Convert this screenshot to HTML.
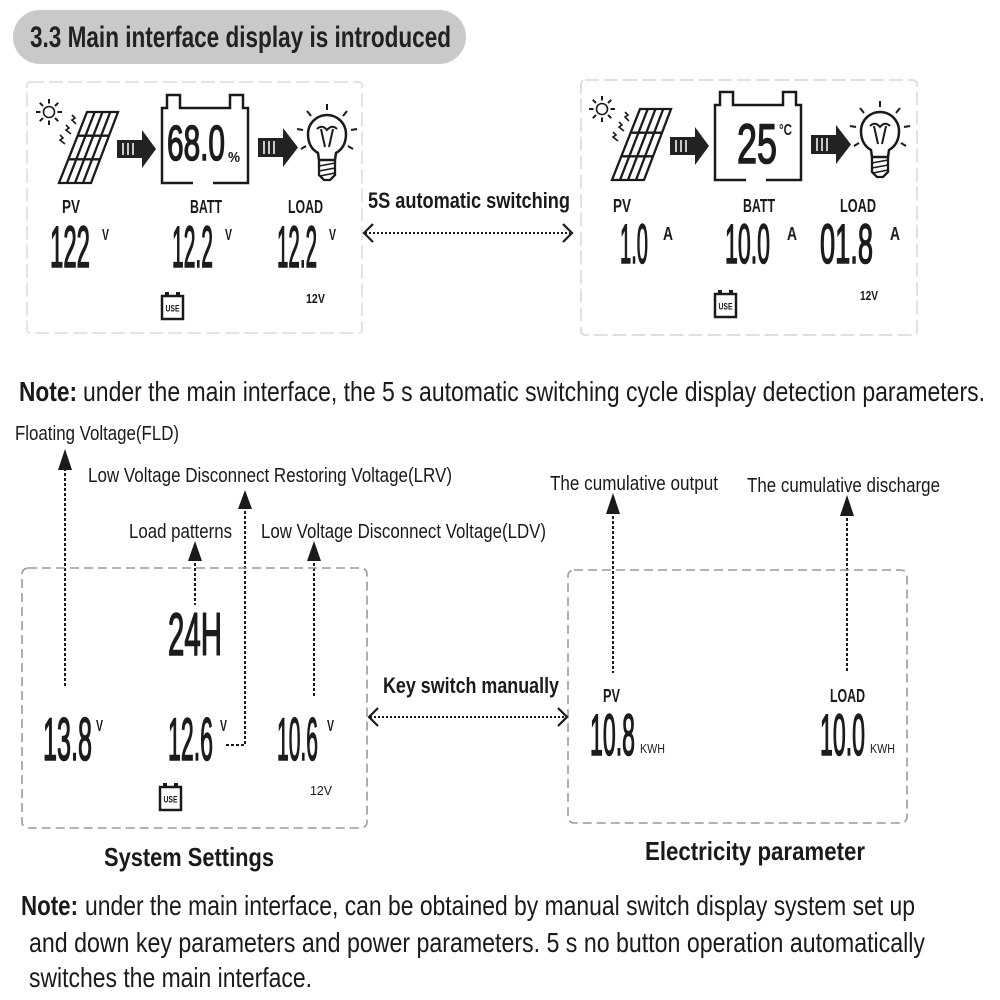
<!DOCTYPE html>
<html><head><meta charset="utf-8"><style>
html,body{margin:0;padding:0;background:#fff;}
svg{display:block;}
text{font-family:"Liberation Sans",sans-serif;fill:#1a1a1a;}
.b{font-weight:bold;}
.lcd{font-weight:normal;fill:#1c1c1c;stroke:#1c1c1c;stroke-width:1.6;}
</style></head><body>
<svg width="1000" height="1000" viewBox="0 0 1000 1000" xmlns="http://www.w3.org/2000/svg">
<rect width="1000" height="1000" fill="#fff"/>

<!-- Title pill -->
<rect x="13" y="10" width="453" height="54" rx="27" fill="#c9c9c9"/>
<text x="30" y="47" font-size="30" class="b" textLength="421" lengthAdjust="spacingAndGlyphs" style="fill:#222">3.3 Main interface display is introduced</text>

<!-- Top panels borders -->
<rect x="27" y="82" width="335" height="251" rx="3" fill="none" stroke="#dcdcdc" stroke-width="1.5" stroke-dasharray="14,5"/>
<rect x="581" y="80" width="336" height="255" rx="4" fill="none" stroke="#d6d6d6" stroke-width="1.5" stroke-dasharray="14,5"/>

<defs>
<g id="icons" fill="none" stroke="#1a1a1a">
  <!-- sun -->
  <circle cx="49" cy="112" r="5.5" stroke-width="1.6"/>
  <g stroke-width="2">
    <line x1="57.5" y1="112" x2="62" y2="112"/>
    <line x1="55" y1="118" x2="58.2" y2="121.2"/>
    <line x1="49" y1="120.5" x2="49" y2="125"/>
    <line x1="43" y1="118" x2="39.8" y2="121.2"/>
    <line x1="40.5" y1="112" x2="36" y2="112"/>
    <line x1="43" y1="106" x2="39.8" y2="102.8"/>
    <line x1="49" y1="103.5" x2="49" y2="99"/>
    <line x1="55" y1="106" x2="58.2" y2="102.8"/>
  </g>
  <!-- small ray squiggles -->
  <g stroke-width="1.6">
    <polyline points="72,115 75,118 72,120 76,124"/>
    <polyline points="66,125 69,128 66,130 71,134"/>
    <polyline points="60,135 63,138 60,140 65,144"/>
  </g>
  <!-- solar panel -->
  <g stroke-width="2.3">
    <polygon points="87,112 118,112 91,183 59,183"/>
    <line x1="94.75" y1="112" x2="67" y2="183"/>
    <line x1="102.5" y1="112" x2="75" y2="183"/>
    <line x1="110.25" y1="112" x2="83" y2="183"/>
    <line x1="78" y1="135.7" x2="109" y2="135.7"/>
    <line x1="68.5" y1="159.3" x2="100" y2="159.3"/>
  </g>
  <!-- arrow 1 -->
  <rect x="117" y="140" width="25" height="18" fill="#222" stroke="none"/>
  <polygon points="142,130 156,149 142,168" fill="#222" stroke="none"/>
  <g stroke="#fff" stroke-width="1.5">
    <line x1="123" y1="143" x2="123" y2="155"/>
    <line x1="128" y1="143" x2="128" y2="155"/>
    <line x1="133" y1="143" x2="133" y2="155"/>
  </g>
  <!-- battery -->
  <path d="M193,183 H162 V108 H167 V95 H180 V108 H230 V95 H243 V108 H248 V183 H213" stroke-width="2.5"/>
  <!-- arrow 2 -->
  <rect x="258" y="138" width="25" height="19" fill="#222" stroke="none"/>
  <polygon points="283,128 298,147.5 283,167" fill="#222" stroke="none"/>
  <g stroke="#fff" stroke-width="1.5">
    <line x1="264" y1="141" x2="264" y2="154"/>
    <line x1="269" y1="141" x2="269" y2="154"/>
    <line x1="274" y1="141" x2="274" y2="154"/>
  </g>
  <!-- bulb -->
  <path d="M319,160 L318,153 C311,149 308,142 308,134 A19,19 0 0 1 346,134 C346,142 343,149 336,153 L335,160 Z" stroke-width="2.5"/>
  <path d="M319,160 V175 L324,180 H330 L335,175 V160" stroke-width="2.3"/>
  <g stroke-width="1.6">
    <line x1="319" y1="166" x2="335" y2="163"/>
    <line x1="319" y1="171" x2="335" y2="168"/>
    <line x1="320" y1="176" x2="335" y2="173"/>
  </g>
  <path d="M317,129 Q322,124 327,130 Q332,124 337,129" stroke-width="2"/>
  <path d="M321,129 L325,147 M333,129 L329,147" stroke-width="2"/>
  <g stroke-width="2">
    <line x1="327" y1="110" x2="327" y2="104"/>
    <line x1="343" y1="116" x2="347" y2="111"/>
    <line x1="311" y1="116" x2="307" y2="111"/>
    <line x1="351" y1="130" x2="357" y2="129"/>
    <line x1="303" y1="130" x2="297" y2="129"/>
    <line x1="348" y1="146" x2="353" y2="149"/>
    <line x1="306" y1="146" x2="301" y2="149"/>
  </g>
</g>
<g id="use">
  <rect x="0" y="4" width="21" height="23" fill="none" stroke="#1a1a1a" stroke-width="2.5"/>
  <rect x="3" y="0" width="4" height="4" fill="#1a1a1a"/>
  <rect x="14" y="0" width="4" height="4" fill="#1a1a1a"/>
  <text x="3.5" y="19.5" font-size="9" class="b" textLength="14" lengthAdjust="spacingAndGlyphs">USE</text>
</g>
</defs>

<!-- Top-left panel -->
<use href="#icons"/>
<text x="167" y="160" font-size="49" class="lcd" textLength="58" lengthAdjust="spacingAndGlyphs">68.0</text>
<text x="228" y="162" font-size="15" class="b" textLength="12" lengthAdjust="spacingAndGlyphs">%</text>

<text x="62" y="213" font-size="18" class="b" textLength="18" lengthAdjust="spacingAndGlyphs">PV</text>
<text x="190" y="213" font-size="18" class="b" textLength="32" lengthAdjust="spacingAndGlyphs">BATT</text>
<text x="288" y="213" font-size="18" class="b" textLength="35" lengthAdjust="spacingAndGlyphs">LOAD</text>

<text x="50" y="267" font-size="58" class="lcd" textLength="40" lengthAdjust="spacingAndGlyphs">122</text>
<text x="102" y="240" font-size="16" class="b" textLength="7" lengthAdjust="spacingAndGlyphs">V</text>
<text x="172" y="267" font-size="58" class="lcd" textLength="41" lengthAdjust="spacingAndGlyphs">12.2</text>
<text x="225" y="240" font-size="16" class="b" textLength="7" lengthAdjust="spacingAndGlyphs">V</text>
<text x="277" y="267" font-size="58" class="lcd" textLength="40" lengthAdjust="spacingAndGlyphs">12.2</text>
<text x="329" y="240" font-size="16" class="b" textLength="7" lengthAdjust="spacingAndGlyphs">V</text>

<use href="#use" x="162" y="292"/>
<text x="306" y="303" font-size="13" class="b" textLength="19" lengthAdjust="spacingAndGlyphs">12V</text>

<!-- 5S automatic switching -->
<text x="368" y="208" font-size="22" class="b" textLength="202" lengthAdjust="spacingAndGlyphs">5S automatic switching</text>
<line x1="365" y1="233" x2="570" y2="233" stroke="#1a1a1a" stroke-width="2" stroke-dasharray="2,2"/>
<polyline points="373,224 364,233 373,242" fill="none" stroke="#1a1a1a" stroke-width="2.2"/>
<polyline points="563,224 572,233 563,242" fill="none" stroke="#1a1a1a" stroke-width="2.2"/>

<!-- Top-right panel -->
<use href="#icons" transform="translate(553,-3)"/>
<text x="737" y="163" font-size="56" class="lcd" textLength="40" lengthAdjust="spacingAndGlyphs">25</text>
<text x="779" y="135" font-size="16" class="b" textLength="13" lengthAdjust="spacingAndGlyphs">°C</text>

<text x="613" y="212" font-size="18" class="b" textLength="18" lengthAdjust="spacingAndGlyphs">PV</text>
<text x="743" y="212" font-size="18" class="b" textLength="32" lengthAdjust="spacingAndGlyphs">BATT</text>
<text x="840" y="212" font-size="18" class="b" textLength="36" lengthAdjust="spacingAndGlyphs">LOAD</text>

<text x="620" y="263" font-size="56" class="lcd" textLength="28" lengthAdjust="spacingAndGlyphs">1.0</text>
<text x="663" y="240" font-size="18" class="b" textLength="10" lengthAdjust="spacingAndGlyphs">A</text>
<text x="725" y="263" font-size="56" class="lcd" textLength="45" lengthAdjust="spacingAndGlyphs">10.0</text>
<text x="787" y="240" font-size="18" class="b" textLength="10" lengthAdjust="spacingAndGlyphs">A</text>
<text x="820" y="263" font-size="56" class="lcd" textLength="53" lengthAdjust="spacingAndGlyphs">01.8</text>
<text x="890" y="240" font-size="18" class="b" textLength="10" lengthAdjust="spacingAndGlyphs">A</text>

<use href="#use" x="715" y="290"/>
<text x="860" y="300" font-size="13" class="b" textLength="18" lengthAdjust="spacingAndGlyphs">12V</text>

<!-- Note 1 -->
<text x="19" y="401" font-size="28" class="b" textLength="58" lengthAdjust="spacingAndGlyphs">Note:</text>
<text x="83" y="401" font-size="28" textLength="902" lengthAdjust="spacingAndGlyphs">under the main interface, the 5 s automatic switching cycle display detection parameters.</text>

<!-- Labels for system settings -->
<text x="15" y="440" font-size="20" textLength="164" lengthAdjust="spacingAndGlyphs">Floating Voltage(FLD)</text>
<text x="88" y="482" font-size="20" textLength="364" lengthAdjust="spacingAndGlyphs">Low Voltage Disconnect Restoring Voltage(LRV)</text>
<text x="129" y="538" font-size="20" textLength="103" lengthAdjust="spacingAndGlyphs">Load patterns</text>
<text x="261" y="538" font-size="20" textLength="285" lengthAdjust="spacingAndGlyphs">Low Voltage Disconnect Voltage(LDV)</text>
<text x="550" y="490" font-size="20" textLength="168" lengthAdjust="spacingAndGlyphs">The cumulative output</text>
<text x="747" y="492" font-size="20" textLength="193" lengthAdjust="spacingAndGlyphs">The cumulative discharge</text>

<!-- Vertical dashed arrows -->
<g stroke="#1a1a1a" stroke-width="2" stroke-dasharray="3,2" fill="none">
  <line x1="65" y1="468" x2="65" y2="687"/>
  <polyline points="245,506 245,745 226,745"/>
  <line x1="195" y1="558" x2="195" y2="605"/>
  <line x1="314" y1="558" x2="314" y2="697"/>
  <line x1="613" y1="511" x2="613" y2="673"/>
  <line x1="847" y1="513" x2="847" y2="673"/>
</g>
<g fill="#1a1a1a">
  <polygon points="65,449 58,470 72,470"/>
  <polygon points="245,490 238,509 252,509"/>
  <polygon points="195,541 188,561 202,561"/>
  <polygon points="314,541 307,561 321,561"/>
  <polygon points="613,493 606,514 620,514"/>
  <polygon points="847,495 840,516 854,516"/>
</g>

<!-- Bottom panels -->
<rect x="22" y="568" width="345" height="260" rx="6" fill="none" stroke="#9a9a9a" stroke-width="1.6" stroke-dasharray="9,5"/>
<rect x="568" y="570" width="339" height="253" rx="6" fill="none" stroke="#9a9a9a" stroke-width="1.6" stroke-dasharray="9,5"/>

<!-- System settings content -->
<text x="168" y="655" font-size="60" class="lcd" textLength="54" lengthAdjust="spacingAndGlyphs">24H</text>
<text x="43" y="760" font-size="60" class="lcd" textLength="49" lengthAdjust="spacingAndGlyphs">13.8</text>
<text x="96" y="731" font-size="16" class="b" textLength="7" lengthAdjust="spacingAndGlyphs">V</text>
<text x="168" y="760" font-size="60" class="lcd" textLength="45" lengthAdjust="spacingAndGlyphs">12.6</text>
<text x="220" y="731" font-size="16" class="b" textLength="7" lengthAdjust="spacingAndGlyphs">V</text>
<text x="277" y="760" font-size="60" class="lcd" textLength="41" lengthAdjust="spacingAndGlyphs">10.6</text>
<text x="327" y="731" font-size="16" class="b" textLength="7" lengthAdjust="spacingAndGlyphs">V</text>
<use href="#use" x="160" y="783"/>
<text x="310" y="795" font-size="13" textLength="22" lengthAdjust="spacingAndGlyphs">12V</text>

<!-- Key switch manually -->
<text x="383" y="693" font-size="22" class="b" textLength="176" lengthAdjust="spacingAndGlyphs">Key switch manually</text>
<line x1="370" y1="717" x2="566" y2="717" stroke="#1a1a1a" stroke-width="2" stroke-dasharray="2,2"/>
<polyline points="378,708 369,717 378,726" fill="none" stroke="#1a1a1a" stroke-width="2.2"/>
<polyline points="558,708 567,717 558,726" fill="none" stroke="#1a1a1a" stroke-width="2.2"/>

<!-- Electricity parameter content -->
<text x="603" y="702" font-size="18" class="b" textLength="17" lengthAdjust="spacingAndGlyphs">PV</text>
<text x="590" y="755" font-size="58" class="lcd" textLength="45" lengthAdjust="spacingAndGlyphs">10.8</text>
<text x="640" y="753" font-size="13" textLength="25" lengthAdjust="spacingAndGlyphs">KWH</text>
<text x="830" y="702" font-size="18" class="b" textLength="35" lengthAdjust="spacingAndGlyphs">LOAD</text>
<text x="820" y="755" font-size="58" class="lcd" textLength="45" lengthAdjust="spacingAndGlyphs">10.0</text>
<text x="870" y="753" font-size="13" textLength="25" lengthAdjust="spacingAndGlyphs">KWH</text>

<!-- Captions -->
<text x="104" y="866" font-size="26" class="b" textLength="170" lengthAdjust="spacingAndGlyphs">System Settings</text>
<text x="645" y="860" font-size="26" class="b" textLength="220" lengthAdjust="spacingAndGlyphs">Electricity parameter</text>

<!-- Note 2 -->
<text x="21" y="915" font-size="28" class="b" textLength="57" lengthAdjust="spacingAndGlyphs">Note:</text>
<text x="85" y="915" font-size="28" textLength="830" lengthAdjust="spacingAndGlyphs">under the main interface, can be obtained by manual switch display system set up</text>
<text x="29" y="952" font-size="28" textLength="896" lengthAdjust="spacingAndGlyphs">and down key parameters and power parameters. 5 s no button operation automatically</text>
<text x="29" y="987" font-size="28" textLength="283" lengthAdjust="spacingAndGlyphs">switches the main interface.</text>
</svg>
</body></html>
